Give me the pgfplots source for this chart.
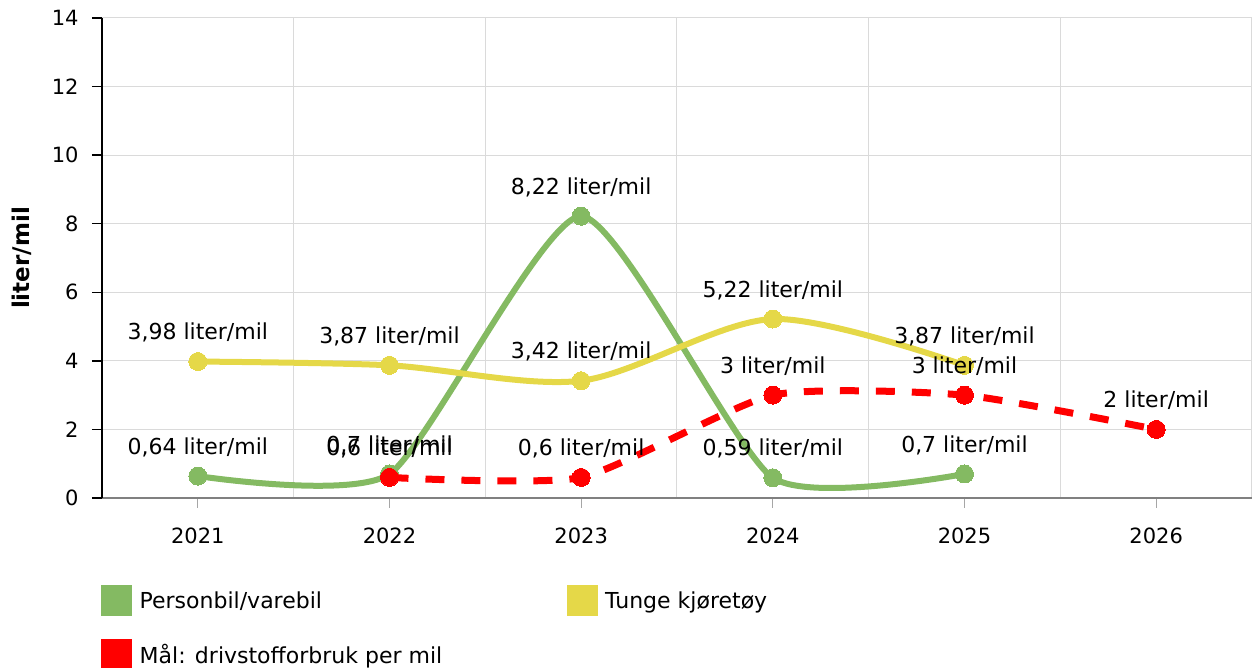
\documentclass[border=0pt]{standalone}
\usepackage{pgfplots}
\pgfplotsset{compat=1.18}
\usepackage{fontspec}
\setmainfont{DejaVu Sans}
\definecolor{cgreen}{RGB}{132,186,98}
\definecolor{cyellow}{RGB}{229,216,72}
\definecolor{cred}{RGB}{255,0,0}
\definecolor{cgrid}{RGB}{218,218,218}
\definecolor{caxis}{RGB}{128,128,128}
\begin{document}
\begin{tikzpicture}[font=\fontsize{22bp}{26bp}\selectfont]
\path[use as bounding box] (0,0) rectangle (1254bp,668bp);
\begin{axis}[
  at={(102bp,170bp)}, anchor=south west,
  width=1150bp, height=480bp, scale only axis,
  xmin=-0.5, xmax=5.5, ymin=0, ymax=14,
  xtick={0,1,2,3,4,5}, xticklabels={2021,2022,2023,2024,2025,2026},
  minor xtick={-0.5,0.5,1.5,2.5,3.5,4.5,5.5},
  ytick={0,2,4,6,8,10,12,14},
  /pgf/number format/assume math mode=true,
  axis x line=bottom, axis y line=left,
  axis line style={-},
  x axis line style={caxis, line width=1.5bp},
  y axis line style={black, line width=1.5bp},
  tick align=outside,
  major tick length=10bp, minor tick length=0pt,
  x tick style={caxis!70, line width=1bp},
  y tick style={black, line width=1.5bp},
  xmajorgrids=false, xminorgrids=true, ymajorgrids=true,
  minor grid style={cgrid, line width=1bp},
  major grid style={cgrid, line width=1bp},
  tick label style={font=\fontsize{21bp}{25bp}\selectfont},
  xticklabel style={yshift=-16bp},
  yticklabel style={xshift=-10bp},
  ylabel={\textbf{liter/mil}},
  ylabel style={at={(axis description cs:-0.0696,0.5)}, anchor=center, rotate=0, font=\fontsize{23bp}{27bp}\selectfont},
  nodes near coords, point meta=explicit symbolic,
  every node near coord/.append style={anchor=center, yshift=29bp, text=black, font=\fontsize{22bp}{26bp}\selectfont},
  clip mode=individual,
  legend columns=2, legend cell align=left,
  legend style={at={(0,0)}, anchor=north west, yshift=-85bp, xshift=-4bp, draw=none, fill=none,
    row sep=23bp, font=\fontsize{22bp}{26bp}\selectfont,
    /tikz/every even column/.append style={column sep=123bp}},
]
\addplot[cgreen, line width=6bp, smooth, tension=0.35, mark=*, mark size=9bp, mark options={fill=cgreen, draw=cgreen, line width=0pt},
  legend image code/.code={\fill[cgreen, draw=none, solid] (0bp,-15.5bp) rectangle (31bp,15.5bp); \path (33bp,0bp);}]
  coordinates {(0,0.64) [0,64 liter/mil] (1,0.7) [0,7 liter/mil] (2,8.22) [8,22 liter/mil] (3,0.59) [0,59 liter/mil] (4,0.7) [0,7 liter/mil]};
\addlegendentry{Personbil/varebil}
\addplot[cyellow, line width=6bp, smooth, tension=0.5, mark=*, mark size=9bp, mark options={fill=cyellow, draw=cyellow, line width=0pt},
  legend image code/.code={\fill[cyellow, draw=none, solid] (0bp,-15.5bp) rectangle (31bp,15.5bp); \path (33bp,0bp);}]
  coordinates {(0,3.98) [3,98 liter/mil] (1,3.87) [3,87 liter/mil] (2,3.42) [3,42 liter/mil] (3,5.22) [5,22 liter/mil] (4,3.87) [3,87 liter/mil]};
\addlegendentry{Tunge kjøretøy}
\addplot[cred, line width=7bp, smooth, tension=0.35, dash pattern=on 19bp off 17bp, mark=*, mark size=9bp, mark options={solid, fill=cred, draw=cred, line width=0pt},
  legend image code/.code={\fill[cred, draw=none, solid] (0bp,-15.5bp) rectangle (31bp,15.5bp); \path (33bp,0bp);}]
  coordinates {(1,0.6) [0,6 liter/mil] (2,0.6) [0,6 liter/mil] (3,3) [3 liter/mil] (4,3) [3 liter/mil] (5,2) [2 liter/mil]};
\addlegendentry{Mål: drivstofforbruk per mil}
\end{axis}
\end{tikzpicture}
\end{document}
